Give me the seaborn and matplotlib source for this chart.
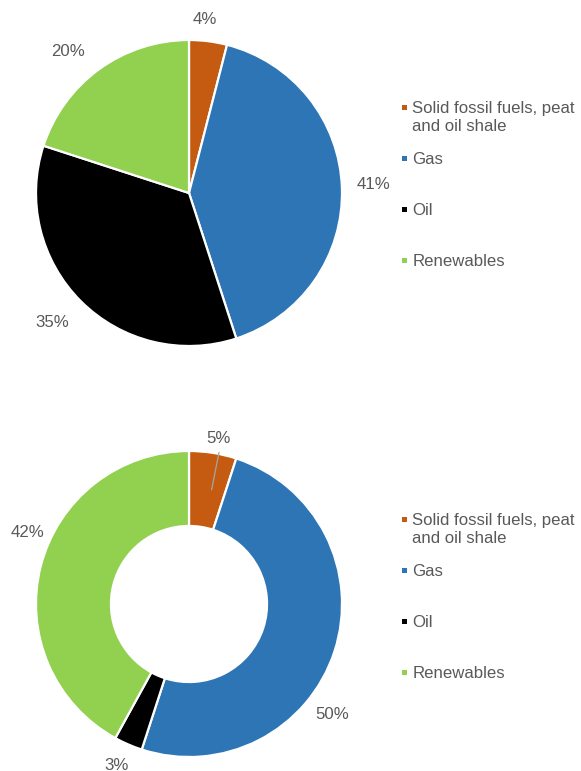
import numpy as np
import matplotlib.pyplot as plt
from matplotlib.patches import Rectangle
import seaborn as sns

# shares of gross inland energy consumption (%)
categories = ["Solid fossil fuels, peat\nand oil shale", "Gas", "Oil", "Renewables"]
top_shares = [4, 41, 35, 20]
bottom_shares = [5, 50, 3, 42]
colors = ["#C55A11", "#2E75B6", "#000000", "#92D050"]

sns.set_theme(style="white")
plt.rcParams["font.family"] = ["Liberation Sans", "DejaVu Sans"]

W, H = 581, 771
R = 153          # pie radius in pixels
HALF = 189       # half size of the pie axes in pixels
GRAY = "#595959"
FS = 12.1

fig = plt.figure(figsize=(W / 100, H / 100), dpi=100)


def draw_pie(cx, cy, shares, label_r, label_shift, width=None):
    ax = fig.add_axes([(cx - HALF) / W, 1 - (cy + HALF) / H, 2 * HALF / W, 2 * HALF / H])
    wedgeprops = dict(edgecolor="white", linewidth=1.6)
    if width:
        wedgeprops["width"] = width
    ax.pie(shares, colors=colors, startangle=90, counterclock=False,
           radius=1, wedgeprops=wedgeprops)
    lim = HALF / R
    ax.set_xlim(-lim, lim)
    ax.set_ylim(-lim, lim)
    ax.set_aspect("equal")
    ax.axis("off")

    cum = np.cumsum([0] + list(shares[:-1]))
    mids = 90 - (cum + np.array(shares) / 2) * 3.6
    for v, m, r, s in zip(shares, mids, label_r, label_shift):
        a = np.deg2rad(m + s)
        ax.text(r * np.cos(a), r * np.sin(a), f"{v}%", ha="center", va="center",
                fontsize=FS, color=GRAY)
    return ax, mids


def draw_legend(y0):
    ys = [107.5, 158.5, 209.5, 260]
    for cat, col, y in zip(categories, colors, ys):
        y = y + y0
        fig.add_artist(Rectangle((401.5 / W, 1 - (y + 2.5) / H), 5 / W, 5 / H,
                                 transform=fig.transFigure, color=col, lw=0))
        fig.text(412.5 / W, 1 - (y - 6.5) / H, cat, ha="left", va="top",
                 fontsize=FS, color=GRAY, linespacing=1.28)


# top: pie
draw_pie(189, 193, top_shares, [1.14, 1.21, 1.23, 1.215], [1.9, 0.7, -1.7, 4.6])
draw_legend(0)

# bottom: doughnut
ax2, mids2 = draw_pie(189, 604, bottom_shares, [1.10, 1.18, 1.153, 1.154],
                      [-1.2, -19.8, -0.7, -9.5], width=0.49)
a = np.deg2rad(mids2[0] - 2.2)
ax2.plot([0.76 * np.cos(a), 1.01 * np.cos(a)], [0.76 * np.sin(a), 1.01 * np.sin(a)],
         color="#A6A6A6", lw=0.9)
draw_legend(412)

fig.savefig("out.png", dpi=100)
